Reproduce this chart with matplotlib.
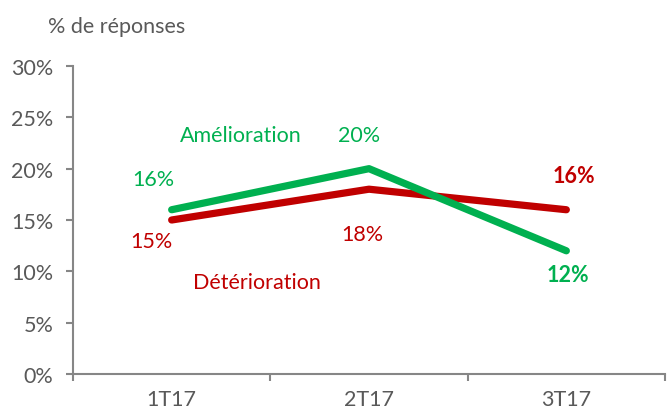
import matplotlib.pyplot as plt
import numpy as np

plt.rcParams["font.family"] = ["Lato", "DejaVu Sans"]

# --- data --------------------------------------------------------------------
quarters      = ["1T17", "2T17", "3T17"]
amelioration  = [16, 20, 12]
deterioration = [15, 18, 16]

GREEN = "#00B050"
RED   = "#C00000"
GREY  = "#595959"
AXIS  = "#868686"
FS    = 15.5

# label offsets (pixels) and weight per point
green_off = [(-18, 31), (-10, 34), (2, -24)]
green_bold = [False, False, True]
red_off = [(-20, -21), (-7, -45), (8, 34)]
red_bold = [False, False, True]

fig = plt.figure(figsize=(6.67, 4.14), dpi=100)
ax = fig.add_axes([73 / 667, 39 / 414, 592 / 667, 308 / 414])

x = np.arange(len(quarters))
ax.plot(x, amelioration, color=GREEN, linewidth=5.2, solid_capstyle="round", zorder=3)
ax.plot(x, deterioration, color=RED, linewidth=5.2, solid_capstyle="round", zorder=2)

for xi, v, off, b in zip(x, amelioration, green_off, green_bold):
    ax.annotate(f"{v}%", (xi, v), xytext=off, textcoords="offset pixels",
                ha="center", va="center", color=GREEN, fontsize=FS,
                fontweight="bold" if b else "normal")
for xi, v, off, b in zip(x, deterioration, red_off, red_bold):
    ax.annotate(f"{v}%", (xi, v), xytext=off, textcoords="offset pixels",
                ha="center", va="center", color=RED, fontsize=FS,
                fontweight="bold" if b else "normal")

ax.text(0.283, 0.775, "Amélioration", transform=ax.transAxes, color=GREEN,
        fontsize=FS, ha="center", va="center")
ax.text(0.31, 0.30, "Détérioration", transform=ax.transAxes, color=RED,
        fontsize=FS, ha="center", va="center")

ax.set_xlim(-0.5, 2.5)
ax.set_ylim(0, 30)
ax.set_yticks(range(0, 31, 5))
ax.set_yticklabels([f"{t}%" for t in range(0, 31, 5)])
ax.set_xticks(x)
ax.set_xticklabels(quarters)
ax.set_xticks([-0.5, 0.5, 1.5, 2.5], minor=True)

for s in ["top", "right"]:
    ax.spines[s].set_visible(False)
for s in ["left", "bottom"]:
    ax.spines[s].set_color(AXIS)
    ax.spines[s].set_linewidth(1.5)

ax.tick_params(axis="y", direction="out", length=5, width=1.5, color=AXIS,
               labelcolor=GREY, labelsize=FS, pad=9)
ax.tick_params(axis="x", which="major", length=0, labelcolor=GREY, labelsize=FS, pad=11)
ax.tick_params(axis="x", which="minor", direction="out", length=5, width=1.5, color=AXIS)

fig.text(48 / 667, 1 - 27 / 414, "% de réponses", color=GREY, fontsize=FS,
         ha="left", va="center")

fig.savefig("out.png", dpi=100)
